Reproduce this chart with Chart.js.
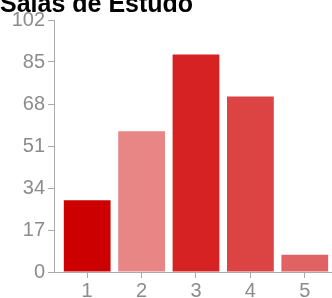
<!DOCTYPE html>
<html>
<head>
<meta charset="utf-8">
<script src="https://cdn.jsdelivr.net/npm/chart.js@4/dist/chart.umd.min.js"></script>
<style>
  html, body { margin: 0; padding: 0; background: #fff; }
  #wrap { width: 332px; height: 298px; }
</style>
</head>
<body>
<div id="wrap"><canvas id="chart" width="332" height="298"></canvas></div>
<script>
// data
const categories = [1, 2, 3, 4, 5];
const responses = [29, 57, 88, 71, 7];
const barColors = ['#cc0000', '#e88585', '#d62222', '#dc4444', '#e06262'];
const yTicks = [0, 17, 34, 51, 68, 85, 102];

const font = "'Liberation Sans', Arial, sans-serif";
const axisGray = '#aaaaaa';

const ctx = document.getElementById('chart').getContext('2d');
new Chart(ctx, {
    type: 'bar',
    data: {
        datasets: [{
            label: 'Salas de Estudo',
            data: categories.map((c, i) => ({ x: c, y: responses[i] })),
            backgroundColor: barColors,
            borderWidth: 0,
            categoryPercentage: 1,
            barPercentage: 0.86,
        }]
    },
    options: {
        responsive: false,
        animation: false,
        layout: { padding: 0 },
        plugins: {
            legend: { display: false },
            tooltip: { enabled: false },
            title: {
                display: true,
                text: 'Salas de Estudo',
                align: 'start',
                color: '#000',
                font: { family: font, size: 25, weight: 'bold' },
                padding: { top: -10, bottom: 0 }
            }
        },
        scales: {
            x: {
                type: 'linear',
                offset: false,
                min: 0.39,
                max: 5.5,
                // only the five answer values get a tick
                afterBuildTicks: axis => {
                    axis.ticks = categories.map(v => ({ value: v }));
                },
                afterFit: axis => { axis.height = 26; },
                ticks: {
                    color: '#8c8c8c',
                    padding: 1,
                    font: { family: font, size: 20 }
                },
                grid: {
                    offset: false,
                    drawOnChartArea: false,
                    drawTicks: true,
                    tickLength: 6,
                    color: axisGray
                },
                border: { display: true, color: axisGray, width: 1 }
            },
            y: {
                min: yTicks[0],
                max: yTicks[yTicks.length - 1],
                afterBuildTicks: axis => {
                    axis.ticks = yTicks.map(v => ({ value: v }));
                },
                afterFit: axis => { axis.width = 54; },
                ticks: {
                    color: '#8c8c8c',
                    padding: 3,
                    font: { family: font, size: 20 }
                },
                grid: {
                    drawOnChartArea: false,
                    drawTicks: true,
                    tickLength: 6,
                    color: axisGray
                },
                border: { display: true, color: axisGray, width: 1 }
            }
        }
    }
});
</script>
</body>
</html>
